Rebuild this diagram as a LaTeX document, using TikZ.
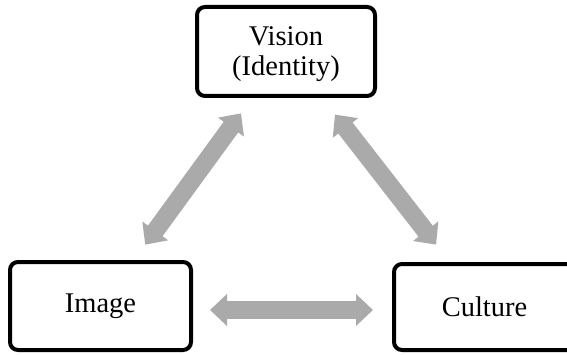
\documentclass[tikz,border=0pt]{standalone}
\usepackage{fontspec}
\setmainfont{Liberation Serif}
\usetikzlibrary{arrows.meta}
\definecolor{linkgray}{HTML}{AAAAAA}
\tikzset{
  concept/.style={draw=black, line width=4pt, rounded corners=8pt, fill=white,
    align=center, inner sep=0pt, font=\fontsize{28.5}{30}\selectfont},
  link/.style={draw=linkgray, line width=18pt,
    {Triangle[width=31pt,length=17pt]}-{Triangle[width=31pt,length=17pt]}}
}
\begin{document}
\begin{tikzpicture}[x=1pt,y=-1pt]
  \useasboundingbox (0,0) rectangle (567,355);
  \begin{scope}
    \clip (0,0) rectangle (567,355);
    % the two-line label sits a little below the box centre
    \node[concept, minimum width=178pt, minimum height=89pt] (vis) at (286,51.5)
      {\raisebox{-3.5pt}[\height][\depth]{\begin{tabular}{@{}c@{}}Vision\\(Identity)\end{tabular}}};
    \node[concept, minimum width=181pt, minimum height=88pt] (img) at (100.5,306) {Image};
    \node[concept, minimum width=181pt, minimum height=86pt] (cul) at (484.5,307) {Culture};
  \end{scope}
  \draw[link, shorten <=19pt, shorten >=19pt] (img) -- (vis);
  \draw[link, shorten <=21pt, shorten >=22pt] (vis) -- (cul);
  \draw[link, shorten <=17pt, shorten >=19pt] ([yshift=-4pt]img.east) -- ([yshift=-3pt]cul.west);
\end{tikzpicture}
\end{document}
